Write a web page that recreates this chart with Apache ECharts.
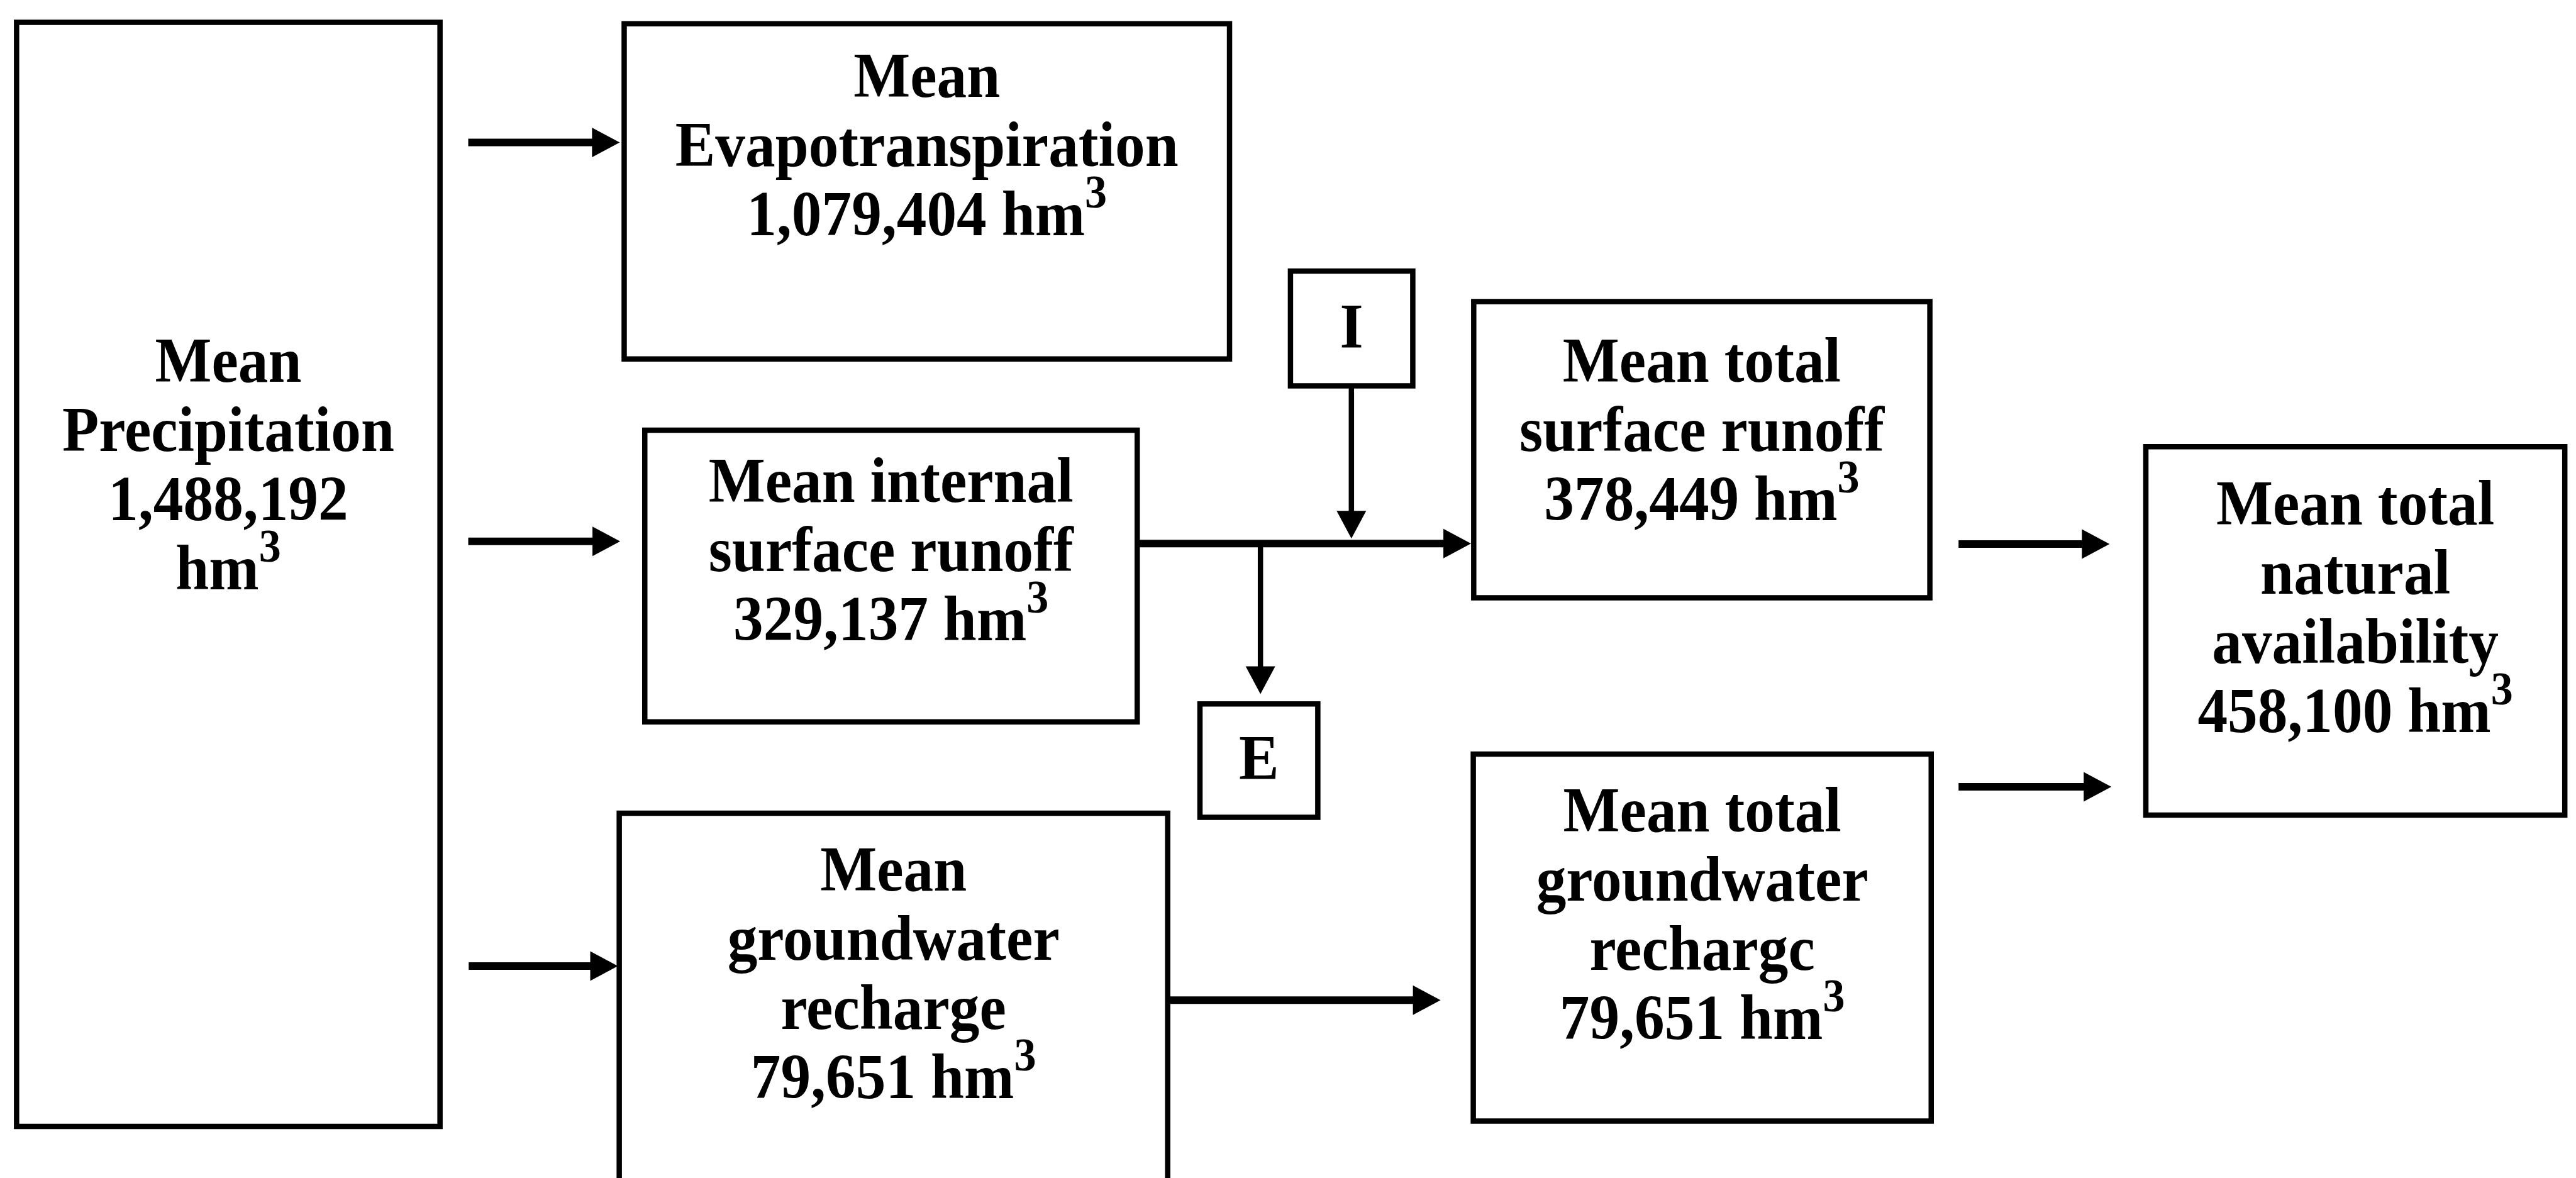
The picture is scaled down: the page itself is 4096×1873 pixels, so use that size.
<!DOCTYPE html>
<html>
<head>
<meta charset="utf-8">
<title>Mean water balance</title>
<style>
    html, body { margin: 0; padding: 0; background: #ffffff; }
    #chart { width: 4096px; height: 1873px; }
</style>
<script src="https://cdn.jsdelivr.net/npm/echarts@6/dist/echarts.min.js"></script>
</head>
<body>
<div id="chart"></div>
<script>
// box titles and volumes (hm3)
var boxTitles = [
    ['Mean', 'Precipitation'],
    ['Mean', 'Evapotranspiration'],
    ['Mean internal', 'surface runoff'],
    ['Mean', 'groundwater', 'recharge'],
    ['I'],
    ['E'],
    ['Mean total', 'surface runoff'],
    ['Mean total', 'groundwater', 'rechargc'],
    ['Mean total', 'natural', 'availability']
];
var boxVolumes = [1488192, 1079404, 329137, 79651, null, null, 378449, 79651, 458100];
var volumeBreak = [true, false, false, false, false, false, false, false, false];

// box edges in figure units (reference is 5749 x 2629)
var boxLeft = [37, 1393, 1439, 1382, 2880, 2678, 3289, 3288, 4789];
var boxRight = [982, 2744, 2538, 2606, 3153, 2941, 4307, 4310, 5724];
var boxTop = [50, 53, 960, 1815, 605, 1571, 673, 1683, 997];
var boxBottom = [2514, 801, 1611, 2636, 861, 1824, 1334, 2502, 1819];
var textMiddle = [1046, 333, 1238, 2182, 739, 1702, 970, 2050, 1365];

// arrows: start and tip
var arrowFromX = [1045, 1045, 1046, 2538, 3016, 2813, 2606, 4371, 4371];
var arrowFromY = [318, 1208, 2156, 1213, 866, 1213, 2232, 1214, 1756];
var arrowToX = [1383, 1384, 1379, 3283, 3016, 2813, 3215, 4708, 4712];
var arrowToY = [318, 1208, 2156, 1213, 1202, 1549, 2232, 1214, 1756];

var FONT = "'Liberation Serif', 'Times New Roman', serif";

function boxLabel(i) {
    var text = boxTitles[i].join('\n');
    if (boxVolumes[i] != null) {
        text += (volumeBreak[i] ? '\n' : '\n' + boxVolumes[i].toLocaleString('en-US') + ' ');
        if (volumeBreak[i]) {
            text += boxVolumes[i].toLocaleString('en-US') + '\n';
        }
        text += 'hm{s|3}';
    }
    return text;
}

document.addEventListener('DOMContentLoaded', function () {
    var chart = echarts.init(document.getElementById('chart'), null, { renderer: 'canvas' });

    var boxData = boxLeft.map(function (v, i) {
        return [boxLeft[i], boxTop[i], boxRight[i], boxBottom[i], textMiddle[i]];
    });
    var arrowData = arrowFromX.map(function (v, i) {
        return [arrowFromX[i], arrowFromY[i], arrowToX[i], arrowToY[i]];
    });

    var option = {
        backgroundColor: '#ffffff',
        animation: false,
        grid: { left: 0, right: 0, top: 0, bottom: 0 },
        xAxis: { type: 'value', min: 0, max: 5749, show: false },
        yAxis: { type: 'value', min: 0, max: 2629, inverse: true, show: false },
        series: [
            {
                // boxes
                type: 'custom',
                coordinateSystem: 'cartesian2d',
                silent: true,
                data: boxData,
                renderItem: function (params, api) {
                    var i = params.dataIndex;
                    var p0 = api.coord([api.value(0), api.value(1)]);
                    var p1 = api.coord([api.value(2), api.value(3)]);
                    var c = api.coord([(api.value(0) + api.value(2)) / 2, api.value(4)]);
                    return {
                        type: 'group',
                        children: [
                            {
                                type: 'rect',
                                shape: { x: p0[0], y: p0[1], width: p1[0] - p0[0], height: p1[1] - p0[1] },
                                style: { fill: '#ffffff', stroke: '#000000', lineWidth: 8.5 }
                            },
                            {
                                type: 'text',
                                x: c[0],
                                y: c[1],
                                scaleX: 0.935,
                                style: {
                                    text: boxLabel(i),
                                    fill: '#000000',
                                    fontFamily: FONT,
                                    fontWeight: 'bold',
                                    fontSize: 102,
                                    lineHeight: 110,
                                    align: 'center',
                                    verticalAlign: 'middle',
                                    rich: {
                                        s: {
                                            fill: '#000000',
                                            fontFamily: FONT,
                                            fontWeight: 'bold',
                                            fontSize: 75,
                                            verticalAlign: 'top',
                                            height: 36
                                        }
                                    }
                                }
                            }
                        ]
                    };
                }
            },
            {
                // arrows
                type: 'custom',
                coordinateSystem: 'cartesian2d',
                silent: true,
                data: arrowData,
                renderItem: function (params, api) {
                    var a = api.coord([api.value(0), api.value(1)]);
                    var b = api.coord([api.value(2), api.value(3)]);
                    var dx = b[0] - a[0], dy = b[1] - a[1];
                    var len = Math.sqrt(dx * dx + dy * dy);
                    var ux = dx / len, uy = dy / len;
                    var headLen = 44, headHalf = 23.5;
                    var bx = b[0] - ux * headLen, by = b[1] - uy * headLen;
                    var vertical = Math.abs(dy) > Math.abs(dx);
                    return {
                        type: 'group',
                        children: [
                            {
                                type: 'line',
                                shape: { x1: a[0], y1: a[1], x2: bx + ux * 4, y2: by + uy * 4 },
                                style: { stroke: '#000000', lineWidth: vertical ? 8.5 : 12 }
                            },
                            {
                                type: 'polygon',
                                shape: {
                                    points: [
                                        [b[0], b[1]],
                                        [bx - uy * headHalf, by + ux * headHalf],
                                        [bx + uy * headHalf, by - ux * headHalf]
                                    ]
                                },
                                style: { fill: '#000000' }
                            }
                        ]
                    };
                }
            }
        ]
    };
    chart.setOption(option);
});
</script>
</body>
</html>
